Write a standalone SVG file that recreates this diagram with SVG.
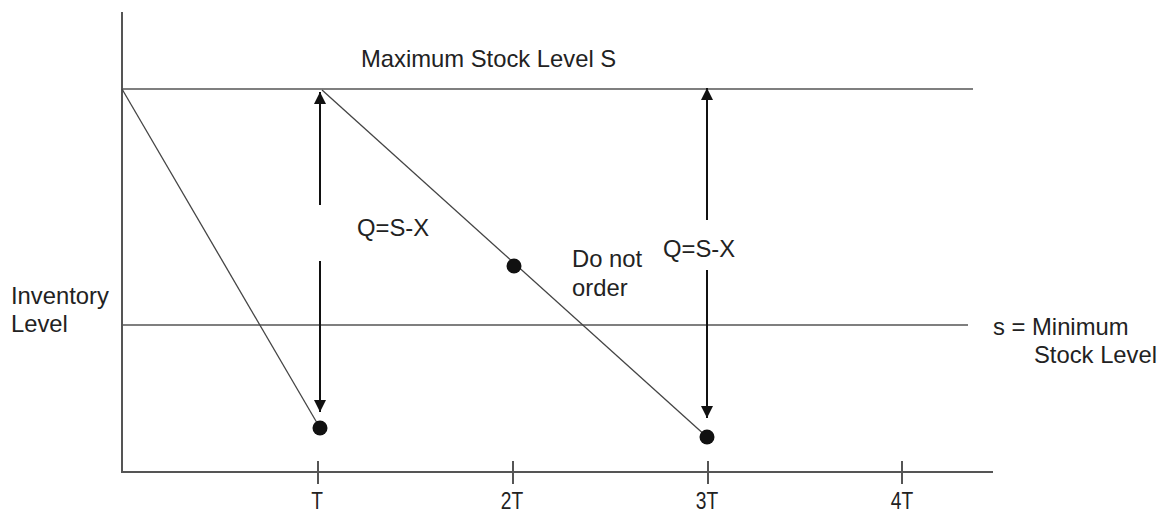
<svg xmlns="http://www.w3.org/2000/svg" width="1168" height="514" viewBox="0 0 1168 514">
<style>
.axis{stroke:#555;stroke-width:2;fill:none}
.level{stroke:#555;stroke-width:1.5;fill:none}
.diag{stroke:#444;stroke-width:1.3;fill:none}
.arr{stroke:#111;stroke-width:2;fill:none}
.dot{fill:#111}
text{font-family:"Liberation Sans",Arial,sans-serif;font-size:23.8px;fill:#222}
.tick{font-size:24px}
</style>
<defs>
<marker id="ah" viewBox="0 0 10 10" refX="10" refY="5" markerWidth="6" markerHeight="6" markerUnits="strokeWidth" orient="auto">
<path d="M0,0 L10,5 L0,10 z" fill="#111"/>
</marker>
</defs>
<g id="axes">
<line class="axis" x1="122" y1="12" x2="122" y2="472"/>
<line class="axis" x1="121" y1="472" x2="993" y2="472"/>
<line class="axis" x1="318" y1="461" x2="318" y2="484"/>
<line class="axis" x1="513" y1="461" x2="513" y2="484"/>
<line class="axis" x1="708" y1="461" x2="708" y2="484"/>
<line class="axis" x1="902" y1="461" x2="902" y2="484"/>
<text class="tick" transform="translate(317,509) scale(0.8,1)" text-anchor="middle">T</text>
<text class="tick" transform="translate(512,509) scale(0.8,1)" text-anchor="middle">2T</text>
<text class="tick" transform="translate(707,509) scale(0.8,1)" text-anchor="middle">3T</text>
<text class="tick" transform="translate(902,509) scale(0.8,1)" text-anchor="middle">4T</text>
</g>
<g id="max-level">
<line class="level" x1="122" y1="89" x2="973" y2="89"/>
<text x="361" y="67">Maximum Stock Level S</text>
</g>
<g id="min-level">
<line class="level" x1="122" y1="325" x2="968" y2="325"/>
<text x="993" y="335">s = Minimum</text>
<text x="1034" y="363">Stock Level</text>
</g>
<g id="y-label">
<text x="11" y="304">Inventory</text>
<text x="11" y="332">Level</text>
</g>
<g id="connectors">
<line class="diag" x1="122" y1="89" x2="320" y2="428"/>
<line class="diag" x1="322" y1="90" x2="707" y2="437"/>
<line class="arr" x1="320" y1="205" x2="320" y2="92" marker-end="url(#ah)"/>
<line class="arr" x1="320" y1="261" x2="320" y2="412" marker-end="url(#ah)"/>
<line class="arr" x1="707" y1="220" x2="707" y2="88" marker-end="url(#ah)"/>
<line class="arr" x1="707" y1="270" x2="707" y2="418" marker-end="url(#ah)"/>
</g>
<g id="dot-T"><circle class="dot" cx="320" cy="428" r="7.5"/></g>
<g id="dot-2T"><circle class="dot" cx="514" cy="266" r="7.5"/></g>
<g id="dot-3T"><circle class="dot" cx="707" cy="437" r="7.5"/></g>
<g id="labels">
<text x="357" y="236">Q=S-X</text>
<text x="663" y="257">Q=S-X</text>
<text x="572" y="267">Do not</text>
<text x="572" y="296">order</text>
</g>
</svg>
